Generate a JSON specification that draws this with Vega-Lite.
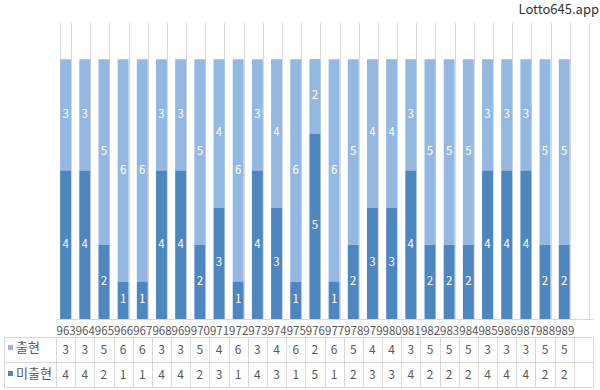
{
  "$schema": "https://vega.github.io/schema/vega-lite/v6.json",
  "background": "white",
  "padding": {"left": 3, "top": 4, "right": 0, "bottom": 0},
  "config": {"view": {"stroke": null}, "font": "Noto Sans CJK KR"},
  "datasets": {
    "d": [
      {"draw": "963", "series": "출현", "count": 3}, {"draw": "963", "series": "미출현", "count": 4},
      {"draw": "964", "series": "출현", "count": 3}, {"draw": "964", "series": "미출현", "count": 4},
      {"draw": "965", "series": "출현", "count": 5}, {"draw": "965", "series": "미출현", "count": 2},
      {"draw": "966", "series": "출현", "count": 6}, {"draw": "966", "series": "미출현", "count": 1},
      {"draw": "967", "series": "출현", "count": 6}, {"draw": "967", "series": "미출현", "count": 1},
      {"draw": "968", "series": "출현", "count": 3}, {"draw": "968", "series": "미출현", "count": 4},
      {"draw": "969", "series": "출현", "count": 3}, {"draw": "969", "series": "미출현", "count": 4},
      {"draw": "970", "series": "출현", "count": 5}, {"draw": "970", "series": "미출현", "count": 2},
      {"draw": "971", "series": "출현", "count": 4}, {"draw": "971", "series": "미출현", "count": 3},
      {"draw": "972", "series": "출현", "count": 6}, {"draw": "972", "series": "미출현", "count": 1},
      {"draw": "973", "series": "출현", "count": 3}, {"draw": "973", "series": "미출현", "count": 4},
      {"draw": "974", "series": "출현", "count": 4}, {"draw": "974", "series": "미출현", "count": 3},
      {"draw": "975", "series": "출현", "count": 6}, {"draw": "975", "series": "미출현", "count": 1},
      {"draw": "976", "series": "출현", "count": 2}, {"draw": "976", "series": "미출현", "count": 5},
      {"draw": "977", "series": "출현", "count": 6}, {"draw": "977", "series": "미출현", "count": 1},
      {"draw": "978", "series": "출현", "count": 5}, {"draw": "978", "series": "미출현", "count": 2},
      {"draw": "979", "series": "출현", "count": 4}, {"draw": "979", "series": "미출현", "count": 3},
      {"draw": "980", "series": "출현", "count": 4}, {"draw": "980", "series": "미출현", "count": 3},
      {"draw": "981", "series": "출현", "count": 3}, {"draw": "981", "series": "미출현", "count": 4},
      {"draw": "982", "series": "출현", "count": 5}, {"draw": "982", "series": "미출현", "count": 2},
      {"draw": "983", "series": "출현", "count": 5}, {"draw": "983", "series": "미출현", "count": 2},
      {"draw": "984", "series": "출현", "count": 5}, {"draw": "984", "series": "미출현", "count": 2},
      {"draw": "985", "series": "출현", "count": 3}, {"draw": "985", "series": "미출현", "count": 4},
      {"draw": "986", "series": "출현", "count": 3}, {"draw": "986", "series": "미출현", "count": 4},
      {"draw": "987", "series": "출현", "count": 3}, {"draw": "987", "series": "미출현", "count": 4},
      {"draw": "988", "series": "출현", "count": 5}, {"draw": "988", "series": "미출현", "count": 2},
      {"draw": "989", "series": "출현", "count": 5}, {"draw": "989", "series": "미출현", "count": 2}
    ]
  },
  "vconcat": [
    {
      "width": 537,
      "height": 297,
      "data": {"name": "d"},
      "title": {"text": "Lotto645.app", "anchor": "end", "frame": "group", "fontSize": 13, "fontWeight": "normal", "color": "#333333", "offset": 5, "dx": 6},
      "encoding": {
        "x": {
          "field": "draw", "type": "nominal", "sort": null,
          "scale": {"domain": ["963","964","965","966","967","968","969","970","971","972","973","974","975","976","977","978","979","980","981","982","983","984","985","986","987","988","989",""], "paddingInner": 0.43, "paddingOuter": 0.215},
          "axis": {"title": null, "labelAngle": 0, "labelFontSize": 11.5, "labelColor": "#595959", "labelPadding": 6, "ticks": false, "tickSize": 0, "domain": true, "domainColor": "#d9d9d9", "grid": true, "gridColor": "#d9d9d9", "tickBand": "extent", "labelOverlap": false}
        },
        "y": {
          "field": "count", "type": "quantitative", "stack": "zero",
          "scale": {"domain": [0, 8]},
          "axis": {"title": null, "labels": false, "ticks": false, "domain": false, "grid": false}
        },
        "order": {"field": "series", "sort": "ascending"}
      },
      "layer": [
        {
          "mark": {"type": "bar"},
          "encoding": {
            "color": {"field": "series", "type": "nominal", "scale": {"domain": ["출현", "미출현"], "range": ["#94b8e1", "#4e86bf"]}, "legend": null}
          }
        },
        {
          "mark": {"type": "text", "color": "white", "fontSize": 11.5},
          "encoding": {
            "y": {"field": "count", "type": "quantitative", "stack": "zero", "bandPosition": 0.5},
            "detail": {"field": "series"},
            "text": {"field": "count", "type": "quantitative"}
          }
        }
      ]
    },
    {
      "width": 537,
      "height": 50,
      "data": {"name": "d"},
      "encoding": {
        "x": {
          "field": "draw", "type": "nominal", "sort": null,
          "scale": {"domain": ["963","964","965","966","967","968","969","970","971","972","973","974","975","976","977","978","979","980","981","982","983","984","985","986","987","988","989",""], "paddingInner": 0, "paddingOuter": 0},
          "axis": {"title": null, "labels": false, "ticks": false, "domain": false, "grid": true, "gridColor": "#d9d9d9", "tickBand": "extent"}
        },
        "y": {
          "field": "series", "type": "nominal",
          "scale": {"domain": ["출현", "미출현"], "paddingInner": 0, "paddingOuter": 0},
          "axis": {"title": null, "labels": false, "offset": 52, "domain": true, "domainColor": "#d9d9d9", "ticks": true, "tickSize": -52, "tickColor": "#d9d9d9", "tickBand": "extent", "grid": true, "gridColor": "#d9d9d9"}
        }
      },
      "layer": [
        {
          "mark": {"type": "text", "color": "#595959", "fontSize": 12},
          "encoding": {"text": {"field": "count", "type": "quantitative"}}
        },
        {
          "mark": {"type": "square", "opacity": 0},
          "encoding": {
            "color": {
              "field": "series", "type": "nominal",
              "scale": {"domain": ["출현", "미출현"], "range": ["#94b8e1", "#4e86bf"]},
              "legend": {"orient": "none", "legendX": -52, "legendY": 4, "title": null, "symbolType": "square", "symbolSize": 25, "symbolStrokeWidth": 0, "symbolOpacity": 1, "labelFontSize": 13, "labelColor": "#595959", "labelOffset": -1, "rowPadding": 12, "padding": 0, "direction": "vertical"}
            }
          }
        }
      ]
    }
  ],
  "spacing": 18,
  "bounds": "flush",
  "resolve": {"scale": {"x": "independent", "color": "independent"}}
}
